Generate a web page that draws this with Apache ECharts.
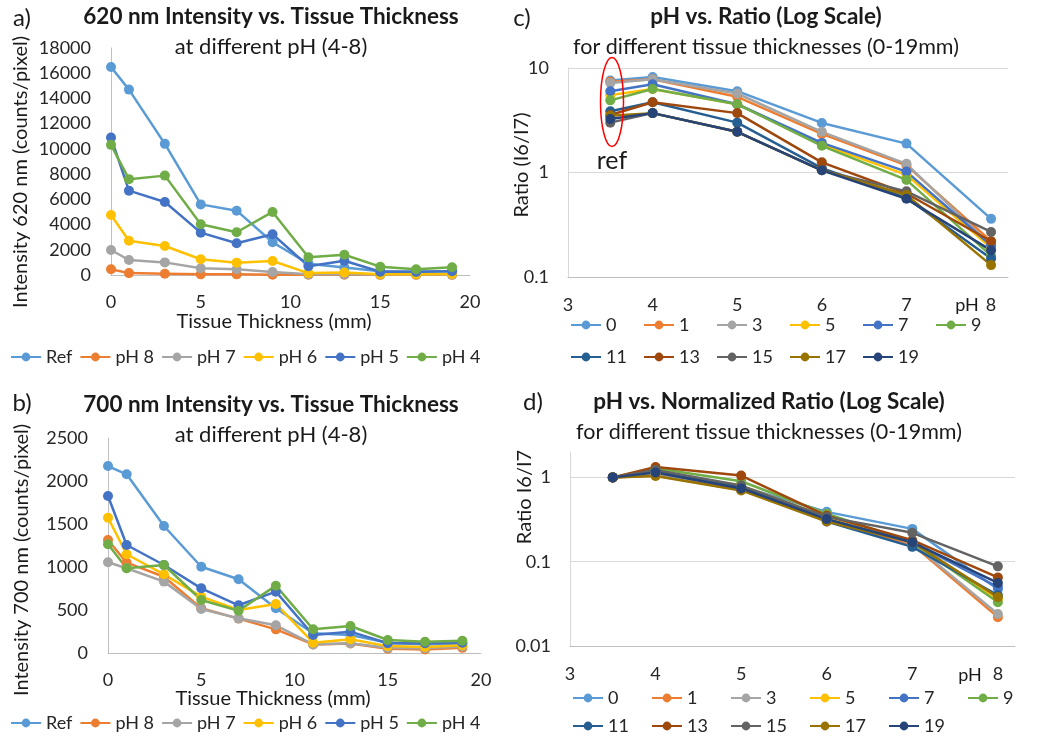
<!DOCTYPE html>
<html><head><meta charset="utf-8">
<script src="https://cdn.jsdelivr.net/npm/echarts@6/dist/echarts.min.js"></script>
<style>html,body{margin:0;padding:0;background:#fff}#c{width:1050px;height:742px}</style>
</head><body><div id="c"></div>
<script>
// ---------- data ----------
const thickness = [0, 1, 3, 5, 7, 9, 11, 13, 15, 17, 19];
const intensityNames = ['Ref', 'pH 8', 'pH 7', 'pH 6', 'pH 5', 'pH 4'];

const ref620  = [16500, 14700, 10400, 5600, 5100, 2600, 900, 600, 300, 250, 300];
const ph8_620 = [450, 150, 100, 50, 50, 20, 20, 20, 10, 10, 10];
const ph7_620 = [1980, 1190, 1000, 530, 450, 240, 50, 50, 30, 30, 30];
const ph6_620 = [4760, 2720, 2300, 1250, 980, 1110, 150, 200, 50, 50, 80];
const ph5_620 = [10900, 6690, 5790, 3360, 2520, 3230, 700, 1130, 260, 250, 300];
const ph4_620 = [10320, 7600, 7880, 4020, 3390, 5000, 1400, 1610, 660, 450, 610];

const ref700  = [2174, 2078, 1477, 1003, 857, 520, 230, 210, 120, 100, 110];
const ph8_700 = [1314, 1050, 887, 520, 400, 275, 100, 110, 50, 40, 60];
const ph7_700 = [1055, 985, 830, 512, 403, 322, 100, 113, 60, 55, 75];
const ph6_700 = [1573, 1148, 915, 655, 500, 570, 120, 160, 80, 70, 90];
const ph5_700 = [1826, 1256, 1023, 752, 555, 713, 209, 248, 113, 113, 120];
const ph4_700 = [1264, 985, 1023, 616, 492, 783, 276, 314, 151, 130, 143];

const phLevels = [3.5, 4, 5, 6, 7, 8];
const thicknessNames = ['0', '1', '3', '5', '7', '9', '11', '13', '15', '17', '19'];

const ratio_0  = [7.6, 8.2, 6.0, 2.98, 1.89, 0.36];
const ratio_1  = [7.4, 7.8, 5.3, 2.34, 1.17, 0.22];
const ratio_3  = [7.2, 7.8, 5.7, 2.45, 1.21, 0.20];
const ratio_5  = [5.5, 6.3, 4.5, 1.85, 0.95, 0.19];
const ratio_7  = [6.0, 7.0, 4.5, 1.92, 1.02, 0.20];
const ratio_9  = [4.9, 6.3, 4.5, 1.80, 0.85, 0.16];
const ratio_11 = [3.85, 4.7, 3.0, 1.10, 0.57, 0.15];
const ratio_13 = [3.55, 4.7, 3.7, 1.25, 0.63, 0.22];
const ratio_15 = [3.0, 3.7, 2.45, 1.05, 0.66, 0.27];
const ratio_17 = [3.5, 3.7, 2.45, 1.05, 0.61, 0.13];
const ratio_19 = [3.25, 3.7, 2.45, 1.05, 0.56, 0.18];

const norm_0  = [1, 1.08, 0.78, 0.39, 0.245, 0.047];
const norm_1  = [1, 1.05, 0.71, 0.31, 0.16, 0.022];
const norm_3  = [1, 1.08, 0.78, 0.34, 0.165, 0.024];
const norm_5  = [1, 1.15, 0.80, 0.34, 0.17, 0.036];
const norm_7  = [1, 1.17, 0.75, 0.32, 0.17, 0.050];
const norm_9  = [1, 1.28, 0.90, 0.37, 0.17, 0.033];
const norm_11 = [1, 1.20, 0.78, 0.30, 0.15, 0.040];
const norm_13 = [1, 1.33, 1.05, 0.35, 0.18, 0.065];
const norm_15 = [1, 1.22, 0.80, 0.34, 0.22, 0.088];
const norm_17 = [1, 1.04, 0.70, 0.30, 0.17, 0.038];
const norm_19 = [1, 1.14, 0.74, 0.32, 0.17, 0.056];

// ---------- styling ----------
const FONT = 'Lato, "Open Sans", sans-serif';
const colorsA = ['#5B9BD5', '#ED7D31', '#A5A5A5', '#FFC000', '#4472C4', '#70AD47'];
const colorsC = ['#5B9BD5', '#ED7D31', '#A5A5A5', '#FFC000', '#4472C4', '#70AD47',
                 '#255E91', '#9E480E', '#636363', '#997300', '#264478'];
const LABEL = '#262626';
const AXIS = '#BFBFBF';
const GRIDC = '#D9D9D9';

const set620 = [ref620, ph8_620, ph7_620, ph6_620, ph5_620, ph4_620];
const set700 = [ref700, ph8_700, ph7_700, ph6_700, ph5_700, ph4_700];
const setRatio = [ratio_0, ratio_1, ratio_3, ratio_5, ratio_7, ratio_9, ratio_11, ratio_13, ratio_15, ratio_17, ratio_19];
const setNorm = [norm_0, norm_1, norm_3, norm_5, norm_7, norm_9, norm_11, norm_13, norm_15, norm_17, norm_19];

function mk(name, xs, ys, color, idx) {
  return {
    type: 'line', name, xAxisIndex: idx, yAxisIndex: idx,
    data: xs.map((x, i) => [x, ys[i]]),
    symbol: 'circle', symbolSize: 10, showSymbol: true,
    lineStyle: { width: 2.5, color }, itemStyle: { color },
    emphasis: { disabled: true }, animation: false
  };
}
const series = [];
set620.forEach((ys, i) => series.push(mk(intensityNames[i], thickness, ys, colorsA[i], 0)));
set700.forEach((ys, i) => series.push(mk(intensityNames[i], thickness, ys, colorsA[i], 1)));
setRatio.forEach((ys, i) => series.push(mk(thicknessNames[i], phLevels, ys, colorsC[i], 2)));
setNorm.forEach((ys, i) => series.push(mk(thicknessNames[i], phLevels, ys, colorsC[i], 3)));

const tickLabel = { fontSize: 18, color: LABEL, fontFamily: FONT };
const plainFmt = v => String(v);
const intFmt = v => (Math.abs(v - Math.round(v)) < 1e-6 ? String(Math.round(v)) : '');
const logFmt = v => { const l = Math.log10(v); return Math.abs(l - Math.round(l)) < 1e-6 ? String(Number(v.toPrecision(2))) : ''; };

function linX(grid, max) {
  return { type: 'value', gridIndex: grid, min: 0, max: max, interval: 5,
    axisLine: { show: true, onZero: false, lineStyle: { color: AXIS, width: 1 } },
    axisTick: { show: false }, splitLine: { show: false },
    axisLabel: Object.assign({ margin: 18, formatter: plainFmt }, tickLabel) };
}
function linY(grid, max, interval) {
  return { type: 'value', gridIndex: grid, min: 0, max: max, interval: interval,
    axisLine: { show: true, lineStyle: { color: AXIS, width: 1 } },
    axisTick: { show: false }, splitLine: { show: false },
    axisLabel: Object.assign({ margin: 20, formatter: plainFmt }, tickLabel) };
}
function phX(grid) {
  return { type: 'value', gridIndex: grid, min: 3, max: 8.2, interval: 1,
    axisLine: { show: true, onZero: false, lineStyle: { color: AXIS, width: 1 } },
    axisTick: { show: false }, splitLine: { show: false },
    axisLabel: Object.assign({ margin: 19, formatter: intFmt, showMaxLabel: false }, tickLabel) };
}
function logY(grid, min, max, showTop) {
  return { type: 'log', logBase: 10, gridIndex: grid, min: min, max: max,
    axisLine: { show: true, lineStyle: { color: GRIDC, width: 1 } },
    axisTick: { show: false },
    splitLine: { show: true, showMaxLine: showTop, lineStyle: { color: GRIDC, width: 1 } },
    axisLabel: Object.assign({ margin: 19, formatter: logFmt }, tickLabel) };
}

function txt(text, x, y, size, weight, extra) {
  return Object.assign({
    type: 'text', x: x, y: y, silent: true,
    style: { text: text, x: 0, y: 0, fill: '#1a1a1a', font: (weight || 'normal') + ' ' + size + 'px ' + FONT,
             fontFamily: FONT, fontSize: size, fontWeight: weight || 'normal',
             align: 'center', verticalAlign: 'middle', textAlign: 'center', textVerticalAlign: 'middle' }
  }, extra || {});
}

const legendBase = {
  itemWidth: 30, itemHeight: 11, selectedMode: false, padding: 0,
  textStyle: { fontSize: 18, color: LABEL, fontFamily: FONT, lineHeight: 20 }
};

const option = {
  backgroundColor: '#ffffff',
  animation: false,
  grid: [
    { left: 111, right: 580, top: 48, height: 227 },
    { left: 108, right: 569, top: 438, height: 215 },
    { left: 568, right: 42, top: 68, height: 209 },
    { left: 570, right: 35, top: 452, height: 194 }
  ],
  xAxis: [linX(0, 20), linX(1, 20), phX(2), phX(3)],
  yAxis: [linY(0, 18000, 2000), linY(1, 2500, 500), logY(2, 0.1, 10, true), logY(3, 0.01, 2, false)],
  legend: [
    Object.assign({}, legendBase, { data: intensityNames, left: 10, top: 347, itemGap: 7 }),
    Object.assign({}, legendBase, { data: intensityNames, left: 10, top: 713, itemGap: 7 }),
    Object.assign({}, legendBase, { data: thicknessNames, left: 570, top: 314, itemGap: 10, width: 440,
      textStyle: { fontSize: 18, color: LABEL, fontFamily: FONT, lineHeight: 22, width: 27 } }),
    Object.assign({}, legendBase, { data: thicknessNames, left: 572, top: 689, itemGap: 10, width: 470,
      textStyle: { fontSize: 18, color: LABEL, fontFamily: FONT, lineHeight: 17, width: 33 } })
  ],
  series: series,
  graphic: [
    // panel letters
    txt('a)', 22, 18, 24), txt('b)', 22, 403, 24), txt('c)', 522, 18, 24), txt('d)', 533, 402, 24),
    // titles
    txt('620 nm Intensity vs. Tissue Thickness', 271, 17, 22.5, 'bold'),
    txt('at different pH (4-8)', 271, 47, 22),
    txt('700 nm Intensity vs. Tissue Thickness', 271, 405, 22.5, 'bold'),
    txt('at different pH (4-8)', 271, 435, 22),
    txt('pH vs. Ratio (Log Scale)', 766, 17, 22.5, 'bold'),
    txt('for different tissue thicknesses (0-19mm)', 766, 47, 21.5),
    txt('pH vs. Normalized Ratio (Log Scale)', 769, 402, 22.5, 'bold'),
    txt('for different tissue thicknesses (0-19mm)', 769, 432, 21.5),
    // axis names
    txt('Tissue Thickness (mm)', 274, 322, 20),
    txt('Tissue Thickness (mm)', 273, 699, 20),
    txt('Intensity 620 nm (counts/pixel)', 21, 172, 20, 'normal', { rotation: Math.PI / 2 }),
    txt('Intensity 700 nm (counts/pixel)', 22, 560, 20, 'normal', { rotation: Math.PI / 2 }),
    txt('Ratio (I6/I7)', 522, 165, 20, 'normal', { rotation: Math.PI / 2 }),
    txt('Ratio I6/I7', 525, 497, 20, 'normal', { rotation: Math.PI / 2 }),
    txt('pH', 967, 305, 18),
    txt('pH', 970, 675, 18),
    // annotation
    txt('ref', 612, 161, 25),
    { type: 'ellipse', silent: true, shape: { cx: 612, cy: 102, rx: 11.5, ry: 44.5 },
      style: { fill: 'none', stroke: '#FF0000', lineWidth: 1.5 }, z: 100 }
  ]
};

const chart = echarts.init(document.getElementById('c'));
chart.setOption(option);
</script>
</body></html>
